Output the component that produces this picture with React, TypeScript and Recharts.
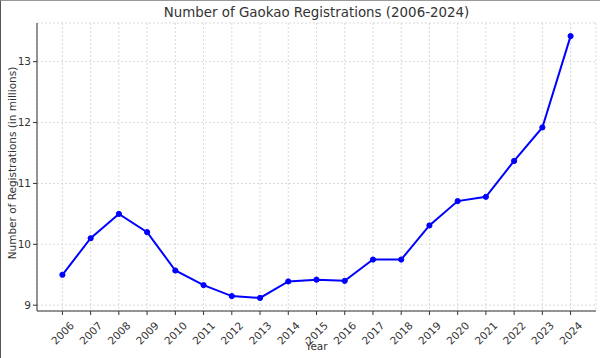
import { LineChart, Line, XAxis, YAxis, CartesianGrid } from 'recharts';

const years = [2006, 2007, 2008, 2009, 2010, 2011, 2012, 2013, 2014, 2015, 2016, 2017, 2018, 2019, 2020, 2021, 2022, 2023, 2024];
const registrations = [9.5, 10.1, 10.5, 10.2, 9.57, 9.33, 9.15, 9.12, 9.39, 9.42, 9.4, 9.75, 9.75, 10.31, 10.71, 10.78, 11.37, 11.92, 13.42];
const yTicks = [9, 10, 11, 12, 13];

const FONT = '"DejaVu Sans", sans-serif';
const TEXT = '#333';

const data = years.map((year, i) => ({ year, value: registrations[i] }));

// matplotlib-style rotated year labels, centred under the tick
const YearTick = ({ x, y, payload }: any) => (
  <text
    x={x}
    y={y + 16}
    transform={`rotate(-45, ${x}, ${y + 16})`}
    textAnchor="middle"
    dominantBaseline="central"
    fontSize={10.5}
    fontFamily={FONT}
    fill={TEXT}
  >
    {payload.value}
  </text>
);

export default function App() {
  return (
    <div
      style={{
        position: 'absolute',
        left: 0,
        top: 0,
        width: 600,
        height: 358,
        boxSizing: 'border-box',
        borderLeft: '1px solid #555',
        borderTop: '1px solid #999',
        background: '#fff',
        fontFamily: FONT,
        color: TEXT,
      }}
    >
      <LineChart width={600} height={358} data={data} margin={{ top: 22, right: 5, bottom: 0, left: 0 }}>
        <CartesianGrid stroke="#d0d0d0" strokeDasharray="2 2" strokeWidth={0.8} />
        <XAxis
          dataKey="year"
          type="number"
          domain={[2005.1, 2024.9]}
          ticks={years}
          interval={0}
          height={48}
          tick={<YearTick />}
          tickSize={4}
          stroke="#333"
          tickLine={{ stroke: '#333' }}
          allowDataOverflow
        />
        <YAxis
          type="number"
          domain={[8.905, 13.635]}
          ticks={yTicks}
          width={36}
          tickSize={4}
          tickMargin={2}
          stroke="#333"
          tick={{ fontSize: 10.5, fontFamily: FONT, fill: TEXT }}
          allowDataOverflow
        />
        <Line
          type="linear"
          dataKey="value"
          stroke="#0000ff"
          strokeWidth={2}
          dot={{ r: 2.6, fill: '#0000ff', stroke: '#0000ff', strokeWidth: 1 }}
          isAnimationActive={false}
        />
      </LineChart>
      <div style={{ position: 'absolute', top: 4, left: 36, width: 559, textAlign: 'center', fontSize: 13.4, lineHeight: '16px' }}>
        Number of Gaokao Registrations (2006-2024)
      </div>
      <div style={{ position: 'absolute', top: 339, left: 36, width: 559, textAlign: 'center', fontSize: 10.5, lineHeight: '13px' }}>
        Year
      </div>
      <div
        style={{
          position: 'absolute',
          left: 11,
          top: 162,
          transform: 'translate(-50%, -50%) rotate(-90deg)',
          whiteSpace: 'nowrap',
          fontSize: 10.5,
          lineHeight: '13px',
        }}
      >
        Number of Registrations (in millions)
      </div>
    </div>
  );
}
